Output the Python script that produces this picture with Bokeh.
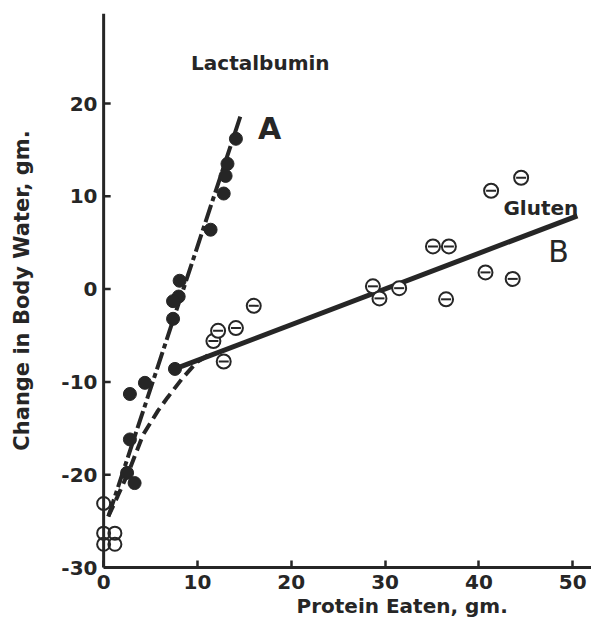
from bokeh.plotting import figure
from bokeh.models import Range1d, FixedTicker, Label, Title, Span
from bokeh.embed import file_html
from bokeh.resources import INLINE

# ---- data ----
lact_x = [14.1, 13.2, 13.0, 12.8, 11.4, 8.1, 8.0, 7.4, 7.4, 7.6, 4.4, 2.8, 2.8, 3.3, 2.5]
lact_y = [16.2, 13.5, 12.2, 10.3, 6.4, 0.9, -0.8, -1.3, -3.2, -8.6, -10.1, -11.3, -16.2, -20.9, -19.8]

gluten_x = [11.7, 12.2, 12.8, 14.1, 16.0, 28.7, 29.4, 31.5, 35.1, 36.8, 36.5, 40.7, 43.6, 41.3, 44.5]
gluten_y = [-5.6, -4.5, -7.8, -4.2, -1.8, 0.3, -1.0, 0.1, 4.6, 4.6, -1.1, 1.8, 1.1, 10.6, 12.0]

zero_x = [0.0, 0.0, 1.2, 0.0, 1.2]
zero_y = [-23.1, -26.3, -26.3, -27.5, -27.5]

lineA_x = [0.5, 14.7]
lineA_y = [-24.5, 19.0]
lineB_x = [7.6, 50.5]
lineB_y = [-8.6, 7.9]
curve_x = [0.5, 1.5, 2.7, 4.2, 5.8, 6.8, 8.4, 9.9, 11.5]
curve_y = [-24.5, -22.3, -19.6, -15.7, -13.1, -11.7, -9.6, -7.9, -6.9]

x_ticks = [0, 10, 20, 30, 40, 50]
x_tick_labels = ["0", "10", "20", "30", "40", "50"]
y_ticks = [-30, -20, -10, 0, 10, 20]
y_tick_labels = ["-30", "-20", "-10", "0", "10", "20"]

INK = "#262626"
FONT = "DejaVu Sans"

p = figure(width=591, height=622, output_backend="svg", toolbar_location=None,
           x_range=Range1d(-1.4, 52), y_range=Range1d(-30, 29.7))
p.min_border_left = 90
p.min_border_right = 0
p.min_border_top = 13
p.min_border_bottom = 55
p.outline_line_color = None
p.xgrid.visible = False
p.ygrid.visible = False
p.background_fill_color = "white"
p.border_fill_color = "white"

for ax in (p.xaxis[0], p.yaxis[0]):
    ax.axis_line_color = INK
    ax.axis_line_width = 3
    ax.major_tick_line_color = INK
    ax.major_tick_line_width = 2.5
    ax.major_tick_in = 7
    ax.major_tick_out = 0
    ax.minor_tick_line_color = None
    ax.major_label_text_font = FONT
    ax.major_label_text_font_style = "bold"
    ax.major_label_text_font_size = "20px"
    ax.major_label_text_color = INK

p.xaxis.ticker = FixedTicker(ticks=x_ticks)
p.xaxis.major_label_overrides = {t: l for t, l in zip(x_ticks, x_tick_labels)}
p.xaxis.major_label_standoff = 7
p.xaxis.bounds = (0, 52)

# y axis: labels from the axis, line and ticks drawn at x = 0
p.yaxis.ticker = FixedTicker(ticks=y_ticks)
p.yaxis.major_label_overrides = {t: l for t, l in zip(y_ticks, y_tick_labels)}
p.yaxis.major_label_standoff = -7
p.yaxis.axis_line_color = None
p.yaxis.major_tick_line_color = None
p.yaxis.axis_label = "Change in Body Water, gm."
p.yaxis.axis_label_text_font = FONT
p.yaxis.axis_label_text_font_style = "bold"
p.yaxis.axis_label_text_font_size = "21px"
p.yaxis.axis_label_text_color = INK
p.yaxis.axis_label_standoff = 24

p.add_layout(Span(location=0, dimension="height", line_color=INK, line_width=3))
p.segment(x0=[0] * len(y_ticks), x1=[0.75] * len(y_ticks), y0=y_ticks, y1=y_ticks,
          line_color=INK, line_width=2.5)

p.add_layout(Title(text="Protein Eaten, gm.", align="left", offset=206, standoff=0,
                   text_font=FONT, text_font_style="bold", text_font_size="20px",
                   text_color=INK), "below")

# lines
p.line(lineA_x, lineA_y, line_color=INK, line_width=4, line_dash="18 4 5 4")
p.line(lineB_x, lineB_y, line_color=INK, line_width=5)
p.line(curve_x, curve_y, line_color=INK, line_width=4, line_dash="12 6")

# points
p.scatter(lact_x, lact_y, marker="circle", size=13, fill_color=INK, line_color=INK)
p.scatter(gluten_x, gluten_y, marker="circle", size=14, fill_color="white",
          line_color=INK, line_width=2)
p.scatter(gluten_x, gluten_y, marker="dash", size=10, line_color=INK, line_width=2)
p.scatter(zero_x, zero_y, marker="circle", size=13, fill_color=None,
          line_color=INK, line_width=2)

def lab(x, y, t, size, style="bold"):
    p.add_layout(Label(x=x, y=y, text=t, text_font=FONT, text_font_style=style,
                       text_font_size=size, text_color=INK,
                       text_align="center", text_baseline="middle"))

lab(16.7, 24.4, "Lactalbumin", "20px")
lab(17.7, 17.3, "A", "30px")
lab(46.6, 8.7, "Gluten", "20px")
lab(48.5, 4.1, "B", "30px", "normal")

open("out.html", "w").write(file_html(p, INLINE))
